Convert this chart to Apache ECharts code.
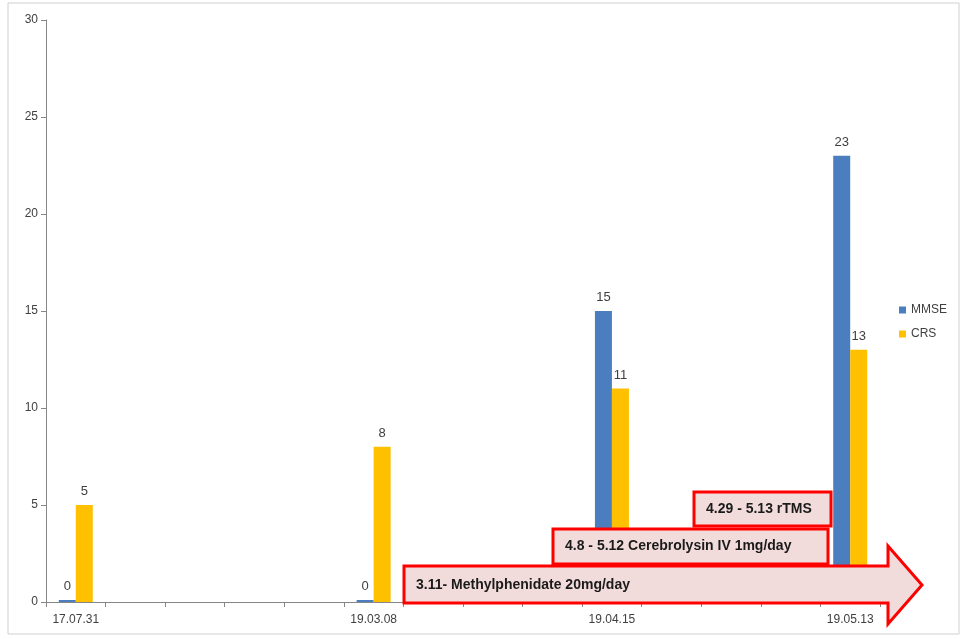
<!DOCTYPE html>
<html>
<head>
<meta charset="utf-8">
<script src="https://cdn.jsdelivr.net/npm/echarts@6/dist/echarts.min.js"></script>
<style>
  html, body { margin: 0; padding: 0; background: #fff; }
  #chart { width: 962px; height: 639px; }
</style>
</head>
<body>
<div id="chart"></div>
<script>
// 14 slots on the date axis, only four carry a label
var categories = ["17.07.31", "", "", "", "", "19.03.08", "", "", "", "19.04.15", "", "", "", "19.05.13"];
var mmse = [0, null, null, null, null, 0, null, null, null, 15, null, null, null, 23];
var crs = [5, null, null, null, null, 8, null, null, null, 11, null, null, null, 13];
var yTicks = { min: 0, max: 30, interval: 5 };

var labelFont = "'Liberation Sans', 'DejaVu Sans', sans-serif";
var noteFont = "bold 14px " + labelFont;

// annotation: pink box with red border, text on the left
function box(x, y, w, h, text) {
  return [
    {
      type: "rect",
      shape: { x: x, y: y, width: w, height: h },
      style: { fill: "#f2dcdb", stroke: "#ff0000", lineWidth: 3 },
      z: 100,
    },
    {
      type: "text",
      x: x + 12,
      y: y + h / 2,
      style: { text: text, fill: "#1a1a1a", font: noteFont, verticalAlign: "middle" },
      z: 101,
    },
  ];
}

var chart = echarts.init(document.getElementById("chart"));
chart.setOption({
  animation: false,
  grid: {
    left: 46,
    right: 82,
    top: 20,
    bottom: 37,
  },
  legend: {
    orient: "vertical",
    right: 10,
    top: 299,
    itemWidth: 7,
    itemHeight: 7,
    itemGap: 12,
    icon: "rect",
    textStyle: { color: "#404040", fontSize: 12, fontFamily: labelFont },
    data: ["MMSE", "CRS"],
  },
  xAxis: {
    type: "category",
    data: categories,
    axisLine: { lineStyle: { color: "#868686" } },
    axisTick: { show: true, length: 5, lineStyle: { color: "#868686" } },
    axisLabel: {
      interval: 0,
      color: "#404040",
      fontSize: 12,
      fontFamily: labelFont,
      margin: 12,
    },
  },
  yAxis: {
    type: "value",
    min: yTicks.min,
    max: yTicks.max,
    interval: yTicks.interval,
    splitLine: { show: false },
    axisLine: { show: true, lineStyle: { color: "#868686" } },
    axisTick: { show: true, length: 5, lineStyle: { color: "#868686" } },
    axisLabel: { color: "#404040", fontSize: 12, fontFamily: labelFont, margin: 8 },
  },
  series: [
    {
      name: "MMSE",
      type: "bar",
      data: mmse,
      barWidth: 17,
      barGap: "0%",
      barMinHeight: 2,
      itemStyle: { color: "#4a7ebf" },
      label: {
        show: true,
        position: "top",
        distance: 7,
        color: "#404040",
        fontSize: 13,
        fontFamily: labelFont,
      },
    },
    {
      name: "CRS",
      type: "bar",
      data: crs,
      barWidth: 17,
      barGap: "0%",
      itemStyle: { color: "#ffc000" },
      label: {
        show: true,
        position: "top",
        distance: 7,
        color: "#404040",
        fontSize: 13,
        fontFamily: labelFont,
      },
    },
  ],
  graphic: [
    {
      type: "rect",
      shape: { x: 8, y: 3, width: 951, height: 631 },
      style: { fill: null, stroke: "#d0d0d0", lineWidth: 1 },
      silent: true,
    },
    {
      type: "polygon",
      shape: {
        points: [
          [404, 566], [888, 566], [888, 546], [922, 585],
          [888, 624], [888, 603], [404, 603],
        ],
      },
      style: { fill: "#f2dcdb", stroke: "#ff0000", lineWidth: 3 },
      z: 100,
    },
    {
      type: "text",
      x: 416,
      y: 585,
      style: {
        text: "3.11- Methylphenidate 20mg/day",
        fill: "#1a1a1a",
        font: noteFont,
        verticalAlign: "middle",
      },
      z: 101,
    },
  ]
    .concat(box(553, 529, 275, 35, "4.8 - 5.12 Cerebrolysin IV 1mg/day"))
    .concat(box(694, 492, 137, 34, "4.29 - 5.13 rTMS")),
});
</script>
</body>
</html>
